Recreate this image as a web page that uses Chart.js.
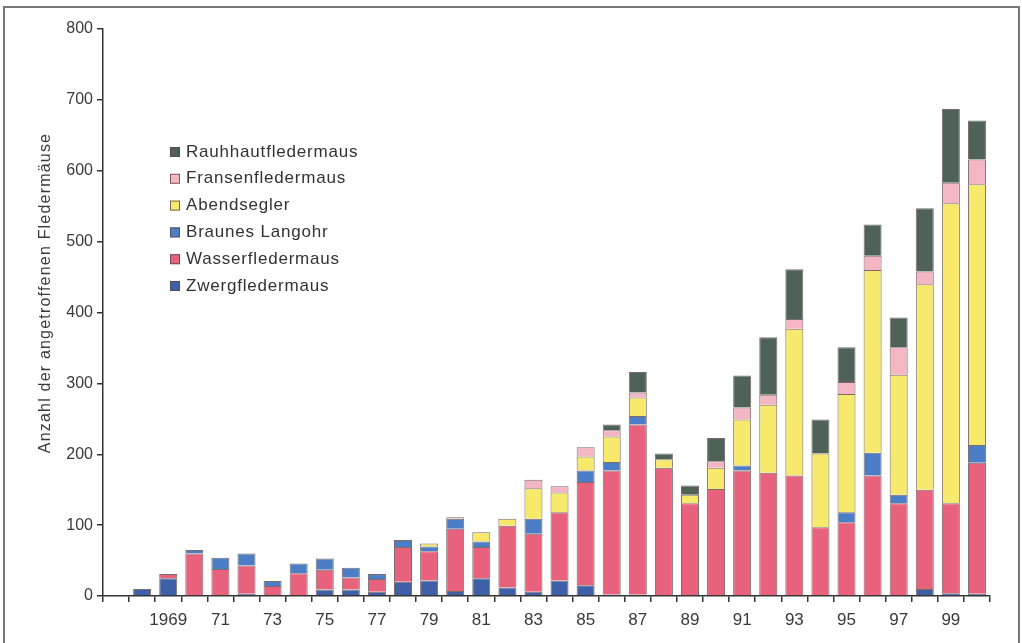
<!DOCTYPE html>
<html>
<head>
<meta charset="utf-8">
<script src="https://cdn.jsdelivr.net/npm/chart.js@4"></script>
<style>
html,body{margin:0;padding:0;background:#fff;}
#wrap{width:1022px;height:643px;position:relative;}
</style>
</head>
<body>
<div id="wrap"><canvas id="c" width="1022" height="643"></canvas></div>
<script>
const years = [1967,1968,1969,1970,1971,1972,1973,1974,1975,1976,1977,1978,1979,1980,1981,1982,1983,1984,1985,1986,1987,1988,1989,1990,1991,1992,1993,1994,1995,1996,1997,1998,1999,2000];
const tickLabels = ['','','1969','','71','','73','','75','','77','','79','','81','','83','','85','','87','','89','','91','','93','','95','','97','','99',''];
const zwerg =    [0,10,25,0,0,3,0,0,9,9,6,20,22,7,25,12,6,22,15,2,2,0,0,1,0,1,0,1,0,0,0,10,4,3];
const wasser =   [0,0,6,60,38,40,14,32,28,17,18,49,41,88,44,87,82,96,146,175,240,181,131,150,177,173,170,96,104,170,131,140,127,185];
const braun =    [0,0,0,5,16,17,7,14,16,14,7,10,7,14,8,0,21,0,16,12,12,0,0,0,7,0,0,0,14,32,12,0,0,25];
const abend =    [0,0,0,0,0,0,0,0,0,0,0,0,4,0,13,10,43,28,20,36,26,12,12,30,65,96,207,104,167,258,169,290,423,368];
const fransen =  [0,0,0,0,0,0,0,0,0,0,0,0,0,2,0,0,12,9,13,9,7,0,0,9,17,14,14,0,17,20,39,18,29,35];
const rauh =     [0,0,0,0,0,0,0,0,0,0,0,0,0,0,0,0,0,0,0,8,29,8,13,33,45,81,70,48,49,44,42,89,104,55];
const yTicks = [0,100,200,300,400,500,600,700,800];
const yTitle = 'Anzahl der angetroffenen Fledermäuse';

const FONT = '"Liberation Sans", Arial, sans-serif';
const edge = 'rgba(90,70,70,0.8)';
function ds(label, data, color){
  return {label, data, backgroundColor: color, borderColor: edge, borderWidth: 1,
          barPercentage: 0.69, categoryPercentage: 1.0};
}
const datasets = [
  ds('Zwergfledermaus', zwerg, '#3f5fa6'),
  ds('Wasserfledermaus', wasser, '#e9627d'),
  ds('Braunes Langohr', braun, '#4b7ec6'),
  ds('Abendsegler', abend, '#f6e96c'),
  ds('Fransenfledermaus', fransen, '#f5b6c3'),
  ds('Rauhhautfledermaus', rauh, '#4e6258')
];

const deco = {
  id: 'deco',
  beforeDraw(chart){
    const ctx = chart.ctx;
    ctx.save();
    ctx.fillStyle = '#fff';
    ctx.fillRect(0,0,chart.width,chart.height);
    ctx.strokeStyle = '#777';
    ctx.lineWidth = 2;
    ctx.strokeRect(4, 7, 1015, 645);
    ctx.restore();
  },
  afterDraw(chart){
    const ctx = chart.ctx;
    ctx.save();
    // y title
    ctx.translate(46, 293);
    ctx.rotate(-Math.PI/2);
    ctx.font = '16px ' + FONT;
    if ('letterSpacing' in ctx) ctx.letterSpacing = '1.2px';
    ctx.fillStyle = '#3a3a3a';
    ctx.textAlign = 'center';
    ctx.textBaseline = 'middle';
    ctx.fillText(yTitle, 0, 0);
    ctx.restore();
    // legend
    ctx.save();
    ctx.font = '17px ' + FONT;
    if ('letterSpacing' in ctx) ctx.letterSpacing = '0.8px';
    ctx.textBaseline = 'middle';
    ctx.textAlign = 'left';
    const items = chart.data.datasets.slice().reverse();
    items.forEach((d, i) => {
      const y = 152 + i * 26.8;
      ctx.fillStyle = d.backgroundColor;
      ctx.fillRect(170, y - 5, 10, 10);
      ctx.strokeStyle = edge;
      ctx.lineWidth = 1;
      ctx.strokeRect(170.5, y - 4.5, 9, 9);
      ctx.fillStyle = '#333';
      ctx.fillText(d.label, 186, y);
    });
    ctx.restore();
  }
};

new Chart(document.getElementById('c'), {
  type: 'bar',
  data: { labels: years, datasets },
  plugins: [deco],
  options: {
    responsive: false,
    animation: false,
    layout: { padding: { left: 0, right: 32, top: 29, bottom: 0 } },
    plugins: { legend: { display: false }, tooltip: { enabled: false } },
    scales: {
      x: {
        stacked: true,
        afterFit(s){ s.height = 47; },
        grid: { display: true, drawOnChartArea: false, offset: true, tickLength: 6, color: '#333', lineWidth: 1.5 },
        border: { color: '#333', width: 1.5 },
        ticks: {
          autoSkip: false, maxRotation: 0, padding: 8,
          color: '#3a3a3a', font: { family: FONT, size: 17 },
          callback: (v, i) => tickLabels[i]
        }
      },
      y: {
        stacked: true,
        min: 0, max: 800,
        afterFit(s){ s.width = 103; },
        afterBuildTicks(s){ s.ticks = yTicks.map(v => ({value: v})); },
        grid: { display: true, drawOnChartArea: false, tickLength: 6, color: '#333', lineWidth: 1.5 },
        border: { color: '#333', width: 1.5 },
        ticks: { padding: 4, color: '#3a3a3a', font: { family: FONT, size: 16 } }
      }
    }
  }
});
</script>
</body>
</html>
